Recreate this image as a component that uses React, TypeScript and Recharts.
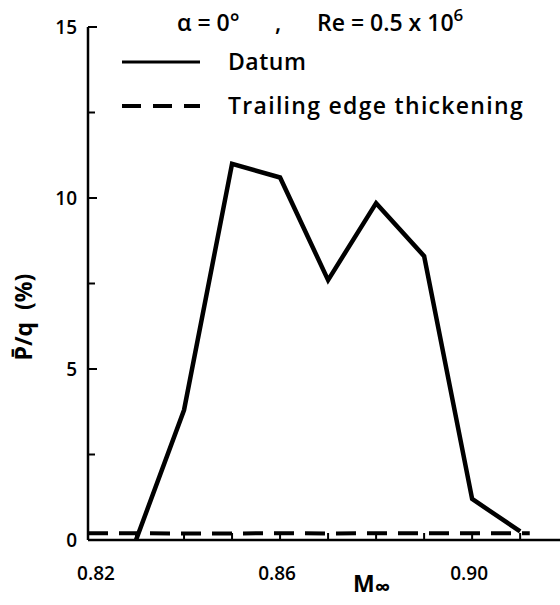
import { LineChart, Line, XAxis, YAxis, Legend } from 'recharts';

// Mach number vs mean pressure fluctuation
const datumMach = [0.83, 0.84, 0.85, 0.86, 0.87, 0.88, 0.89, 0.9, 0.91];
const datumP = [0, 3.8, 11.0, 10.6, 7.6, 9.85, 8.3, 1.2, 0.25];

const tetMach = [0.82, 0.83, 0.84, 0.85, 0.86, 0.87, 0.88, 0.89, 0.9, 0.912];
const tetP = [0.2, 0.2, 0.19, 0.19, 0.2, 0.19, 0.2, 0.2, 0.2, 0.2];

const xTicks = [0.82, 0.83, 0.84, 0.85, 0.86, 0.87, 0.88, 0.89, 0.9, 0.91];
const xLabels = ['0.82', '0.86', '0.90'];
const yTicks = [0, 2.5, 5, 7.5, 10, 12.5, 15];

const datum = datumMach.map((m, i) => ({ m, p: datumP[i] }));
const tet = tetMach.map((m, i) => ({ m, p: tetP[i] }));

const FONT = '"Open Sans", "DejaVu Sans", sans-serif';

const XTick = (props: any) => {
  const { x, y, payload } = props;
  const txt = payload.value.toFixed(2);
  // first label sits a little right of the axis corner, as in the original
  const dx = txt === '0.82' ? 8 : -3;
  return (
    <g>
      <line x1={x} x2={x} y1={y} y2={y - 7} stroke="#000" strokeWidth={2} />
      {xLabels.includes(txt) && (
        <text x={x + dx} y={y + 40} textAnchor="middle" fontFamily={FONT} fontSize={19} fontWeight={600} fill="#000">
          {txt}
        </text>
      )}
    </g>
  );
};

const YTick = (props: any) => {
  const { x, y, payload } = props;
  const major = payload.value % 5 === 0;
  return (
    <g>
      <line x1={x} x2={x + (major ? 9 : 7)} y1={y} y2={y} stroke="#000" strokeWidth={2} />
      {major && (
        <text x={x - 11} y={y + 7} textAnchor="end" fontFamily={FONT} fontSize={19} fontWeight={600} fill="#000">
          {payload.value}
        </text>
      )}
    </g>
  );
};

const renderLegend = () => (
  <svg width={440} height={120} style={{ overflow: 'visible' }}>
    <text y={31} fontFamily={FONT} fontSize={23} fontWeight={600} fill="#000">
      <tspan x={57}>{'\u03b1 = 0\u00b0'}</tspan>
      <tspan x={155}>,</tspan>
      <tspan x={197}>Re = 0.5 x 10</tspan>
      <tspan dy={-10} fontSize={17}>6</tspan>
    </text>
    <line x1={2} x2={80} y1={62} y2={62} stroke="#000" strokeWidth={3} />
    <text x={108} y={70} fontFamily={FONT} fontSize={23} fontWeight={600} fill="#000" letterSpacing={0.5}>Datum</text>
    <line x1={2} x2={80} y1={106} y2={106} stroke="#000" strokeWidth={4} strokeDasharray="19 12" />
    <text x={108} y={114} fontFamily={FONT} fontSize={23} fontWeight={600} fill="#000" letterSpacing={1.3}>
      Trailing edge thickening
    </text>
  </svg>
);

export default function App() {
  return (
    <div style={{ position: 'absolute', left: 0, top: 0, width: 560, height: 605, background: '#fff' }}>
      <LineChart width={560} height={605} margin={{ top: 27, right: 0, bottom: 0, left: 0 }}>
        <XAxis
          type="number"
          dataKey="m"
          domain={[0.82, 0.9183]}
          ticks={xTicks}
          tick={<XTick />}
          tickSize={0}
          tickMargin={0}
          tickLine={false}
          axisLine={{ stroke: '#000', strokeWidth: 2.5 }}
          height={65}
          allowDataOverflow
        />
        <YAxis
          type="number"
          dataKey="p"
          domain={[0, 15]}
          ticks={yTicks}
          tick={<YTick />}
          tickSize={0}
          tickMargin={0}
          tickLine={false}
          axisLine={{ stroke: '#000', strokeWidth: 2.5 }}
          width={88}
        />
        <Legend
          layout="vertical"
          align="center"
          verticalAlign="middle"
          content={renderLegend}
          wrapperStyle={{ position: 'absolute', left: 120, top: 0, width: 440, height: 120 }}
        />
        <Line
          data={datum}
          dataKey="p"
          type="linear"
          stroke="#000"
          strokeWidth={4.5}
          strokeLinejoin="miter"
          dot={false}
          isAnimationActive={false}
        />
        <Line
          data={tet}
          dataKey="p"
          type="linear"
          stroke="#000"
          strokeWidth={4}
          strokeDasharray="20 11"
          dot={false}
          isAnimationActive={false}
        />
      </LineChart>
      <svg
        width={560}
        height={605}
        style={{ position: 'absolute', left: 0, top: 0, pointerEvents: 'none' }}
      >
        <text x={353} y={592} fontFamily={FONT} fontSize={23} fontWeight={700} fill="#000">
          M<tspan dy={3} fontSize={22}>{'\u221e'}</tspan>
        </text>
        <text
          x={32}
          y={317}
          transform="rotate(-90 32 317)"
          fontFamily={FONT}
          fontSize={23}
          fontWeight={700}
          fill="#000"
          textAnchor="middle"
          style={{ whiteSpace: 'pre' }}
        >
          {'P\u0304/q  (%)'}
        </text>
      </svg>
    </div>
  );
}
